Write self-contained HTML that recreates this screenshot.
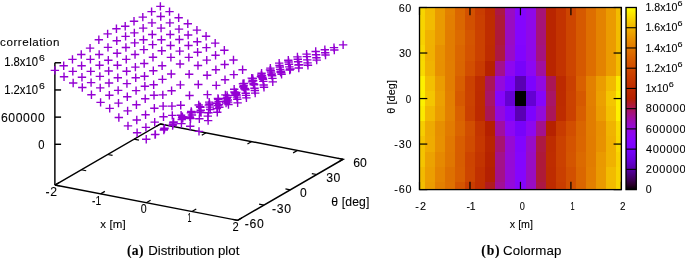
<!DOCTYPE html>
<html><head><meta charset="utf-8"><style>
html,body{margin:0;padding:0;background:#fff;overflow:hidden;}
svg{display:block;will-change:transform;font-family:"Liberation Sans",sans-serif;fill:#000;}
text{fill:#000;stroke:#000;stroke-width:0.1px;}
</style></head><body>
<svg width="685" height="258" viewBox="0 0 685 258">
<line x1="54.88" y1="185.06" x2="59.19" y2="182.57" stroke="#000" stroke-width="1.2"/>
<line x1="160.38" y1="123.92" x2="156.08" y2="126.42" stroke="#000" stroke-width="1.2"/>
<line x1="100.57" y1="193.89" x2="104.88" y2="191.39" stroke="#000" stroke-width="1.2"/>
<line x1="206.07" y1="132.75" x2="201.76" y2="135.24" stroke="#000" stroke-width="1.2"/>
<line x1="146.25" y1="202.71" x2="150.56" y2="200.22" stroke="#000" stroke-width="1.2"/>
<line x1="251.75" y1="141.57" x2="247.44" y2="144.07" stroke="#000" stroke-width="1.2"/>
<line x1="191.93" y1="211.54" x2="196.24" y2="209.04" stroke="#000" stroke-width="1.2"/>
<line x1="297.43" y1="150.40" x2="293.12" y2="152.89" stroke="#000" stroke-width="1.2"/>
<line x1="237.62" y1="220.36" x2="241.92" y2="217.87" stroke="#000" stroke-width="1.2"/>
<line x1="343.12" y1="159.22" x2="338.81" y2="161.72" stroke="#000" stroke-width="1.2"/>
<line x1="237.62" y1="220.36" x2="232.70" y2="219.41" stroke="#000" stroke-width="1.2"/>
<line x1="54.88" y1="185.06" x2="59.80" y2="186.01" stroke="#000" stroke-width="1.2"/>
<line x1="263.99" y1="205.08" x2="259.08" y2="204.13" stroke="#000" stroke-width="1.2"/>
<line x1="81.26" y1="169.78" x2="86.17" y2="170.73" stroke="#000" stroke-width="1.2"/>
<line x1="290.37" y1="189.79" x2="285.45" y2="188.84" stroke="#000" stroke-width="1.2"/>
<line x1="107.63" y1="154.49" x2="112.55" y2="155.44" stroke="#000" stroke-width="1.2"/>
<line x1="316.74" y1="174.51" x2="311.83" y2="173.56" stroke="#000" stroke-width="1.2"/>
<line x1="134.01" y1="139.21" x2="138.92" y2="140.15" stroke="#000" stroke-width="1.2"/>
<line x1="343.12" y1="159.22" x2="338.20" y2="158.27" stroke="#000" stroke-width="1.2"/>
<line x1="160.38" y1="123.92" x2="165.30" y2="124.87" stroke="#000" stroke-width="1.2"/>
<polyline points="54.88,185.06 237.62,220.36 343.12,159.22 160.38,123.92 54.88,185.06" fill="none" stroke="#000" stroke-width="1.45" stroke-linejoin="miter"/>
<line x1="54.88" y1="185.06" x2="54.88" y2="62.78" stroke="#000" stroke-width="1.45"/>
<line x1="54.88" y1="144.30" x2="61.08" y2="144.30" stroke="#000" stroke-width="1.45"/>
<line x1="54.88" y1="117.13" x2="61.08" y2="117.13" stroke="#000" stroke-width="1.45"/>
<line x1="54.88" y1="89.95" x2="61.08" y2="89.95" stroke="#000" stroke-width="1.45"/>
<line x1="54.88" y1="62.78" x2="61.08" y2="62.78" stroke="#000" stroke-width="1.45"/>
<path d="M156.18 6.39h8.40M160.38 2.19v8.40M165.32 11.60h8.40M169.52 7.40v8.40M174.46 17.80h8.40M178.66 13.60v8.40M183.59 23.69h8.40M187.79 19.49v8.40M192.73 30.12h8.40M196.93 25.92v8.40M201.87 36.28h8.40M206.07 32.08v8.40M211.00 43.12h8.40M215.20 38.92v8.40M220.14 50.32h8.40M224.34 46.12v8.40M229.28 60.01h8.40M233.48 55.81v8.40M238.41 69.70h8.40M242.61 65.50v8.40M247.55 78.16h8.40M251.75 73.96v8.40M256.69 76.76h8.40M260.89 72.56v8.40M265.82 69.92h8.40M270.02 65.72v8.40M274.96 63.08h8.40M279.16 58.88v8.40M284.10 60.32h8.40M288.30 56.12v8.40M293.23 56.87h8.40M297.43 52.67v8.40M302.37 54.11h8.40M306.57 49.91v8.40M311.51 51.57h8.40M315.71 47.37v8.40M320.64 49.71h8.40M324.84 45.51v8.40M329.78 47.63h8.40M333.98 43.43v8.40M338.92 44.86h8.40M343.12 40.66v8.40M147.39 11.58h8.40M151.59 7.38v8.40M156.53 16.51h8.40M160.73 12.31v8.40M165.67 22.90h8.40M169.87 18.70v8.40M174.80 29.10h8.40M179.00 24.90v8.40M183.94 34.99h8.40M188.14 30.79v8.40M193.08 41.69h8.40M197.28 37.49v8.40M202.21 47.62h8.40M206.41 43.42v8.40M211.35 55.18h8.40M215.55 50.98v8.40M220.49 64.51h8.40M224.69 60.31v8.40M229.62 74.61h8.40M233.82 70.41v8.40M238.76 83.71h8.40M242.96 79.51v8.40M247.89 81.85h8.40M252.09 77.65v8.40M257.03 75.01h8.40M261.23 70.81v8.40M266.17 68.17h8.40M270.37 63.97v8.40M275.30 65.41h8.40M279.50 61.21v8.40M284.44 61.97h8.40M288.64 57.77v8.40M293.58 59.20h8.40M297.78 55.00v8.40M302.71 56.67h8.40M306.91 52.47v8.40M311.85 54.81h8.40M316.05 50.61v8.40M320.99 52.72h8.40M325.19 48.52v8.40M330.12 49.96h8.40M334.32 45.76v8.40M138.60 17.08h8.40M142.80 12.88v8.40M147.74 22.88h8.40M151.94 18.68v8.40M156.87 28.08h8.40M161.07 23.88v8.40M166.01 34.51h8.40M170.21 30.31v8.40M175.15 39.50h8.40M179.35 35.30v8.40M184.28 45.56h8.40M188.48 41.36v8.40M193.42 52.31h8.40M197.62 48.11v8.40M202.56 60.10h8.40M206.76 55.90v8.40M211.69 69.70h8.40M215.89 65.50v8.40M220.83 79.80h8.40M225.03 75.60v8.40M229.97 89.26h8.40M234.17 85.06v8.40M239.10 86.95h8.40M243.30 82.75v8.40M248.24 80.11h8.40M252.44 75.91v8.40M257.38 73.27h8.40M261.58 69.07v8.40M266.51 70.51h8.40M270.71 66.31v8.40M275.65 67.06h8.40M279.85 62.86v8.40M284.79 64.30h8.40M288.99 60.10v8.40M293.92 61.76h8.40M298.12 57.56v8.40M303.06 59.90h8.40M307.26 55.70v8.40M312.20 57.82h8.40M316.40 53.62v8.40M321.33 55.05h8.40M325.53 50.85v8.40M129.81 21.32h8.40M134.01 17.12v8.40M138.95 28.11h8.40M143.15 23.91v8.40M148.08 34.49h8.40M152.28 30.29v8.40M157.22 39.70h8.40M161.42 35.50v8.40M166.36 45.50h8.40M170.56 41.30v8.40M175.49 51.11h8.40M179.69 46.91v8.40M184.63 57.40h8.40M188.83 53.20v8.40M193.77 65.51h8.40M197.97 61.31v8.40M202.90 75.20h8.40M207.10 71.00v8.40M212.04 85.34h8.40M216.24 81.14v8.40M221.18 94.90h8.40M225.38 90.70v8.40M230.31 92.04h8.40M234.51 87.84v8.40M239.45 85.66h8.40M243.65 81.46v8.40M248.58 78.36h8.40M252.78 74.16v8.40M257.72 75.60h8.40M261.92 71.40v8.40M266.86 72.16h8.40M271.06 67.96v8.40M275.99 69.39h8.40M280.19 65.19v8.40M285.13 66.86h8.40M289.33 62.66v8.40M294.27 65.00h8.40M298.47 60.80v8.40M303.40 62.91h8.40M307.60 58.71v8.40M312.54 60.15h8.40M316.74 55.95v8.40M121.02 26.19h8.40M125.22 21.99v8.40M130.15 32.89h8.40M134.35 28.69v8.40M139.29 39.68h8.40M143.49 35.48v8.40M148.43 44.61h8.40M152.63 40.41v8.40M157.56 50.82h8.40M161.76 46.62v8.40M166.70 57.34h8.40M170.90 53.14v8.40M175.84 63.99h8.40M180.04 59.79v8.40M184.97 74.18h8.40M189.17 69.98v8.40M194.11 84.51h8.40M198.31 80.31v8.40M203.25 94.61h8.40M207.45 90.41v8.40M212.38 103.26h8.40M216.58 99.06v8.40M221.52 98.50h8.40M225.72 94.30v8.40M230.66 92.79h8.40M234.86 88.59v8.40M239.79 83.46h8.40M243.99 79.26v8.40M248.93 80.70h8.40M253.13 76.50v8.40M258.07 77.25h8.40M262.27 73.05v8.40M267.20 74.49h8.40M271.40 70.29v8.40M276.34 71.95h8.40M280.54 67.75v8.40M285.48 70.09h8.40M289.68 65.89v8.40M294.61 68.01h8.40M298.81 63.81v8.40M303.75 65.24h8.40M307.95 61.04v8.40M112.23 28.70h8.40M116.43 24.50v8.40M121.36 36.40h8.40M125.56 32.20v8.40M130.50 42.92h8.40M134.70 38.72v8.40M139.64 49.62h8.40M143.84 45.42v8.40M148.77 57.27h8.40M152.97 53.07v8.40M157.91 65.78h8.40M162.11 61.58v8.40M167.05 73.98h8.40M171.25 69.78v8.40M176.18 84.89h8.40M180.38 80.69v8.40M185.32 95.49h8.40M189.52 91.29v8.40M194.46 105.05h8.40M198.66 100.85v8.40M203.59 116.10h8.40M207.79 111.90v8.40M212.73 108.58h8.40M216.93 104.38v8.40M221.86 102.96h8.40M226.06 98.76v8.40M231.00 95.30h8.40M235.20 91.10v8.40M240.14 88.73h8.40M244.34 84.53v8.40M249.27 83.71h8.40M253.47 79.51v8.40M258.41 78.09h8.40M262.61 73.89v8.40M267.55 73.92h8.40M271.75 69.72v8.40M276.68 71.25h8.40M280.88 67.05v8.40M285.82 68.98h8.40M290.02 64.78v8.40M294.96 64.81h8.40M299.16 60.61v8.40M103.43 33.88h8.40M107.63 29.68v8.40M112.57 40.72h8.40M116.77 36.52v8.40M121.71 47.51h8.40M125.91 43.31v8.40M130.84 54.49h8.40M135.04 50.29v8.40M139.98 63.50h8.40M144.18 59.30v8.40M149.12 70.70h8.40M153.32 66.50v8.40M158.25 79.39h8.40M162.45 75.19v8.40M167.39 90.71h8.40M171.59 86.51v8.40M176.53 105.21h8.40M180.73 101.01v8.40M185.66 117.07h8.40M189.86 112.87v8.40M194.80 131.38h8.40M199.00 127.18v8.40M203.94 120.60h8.40M208.14 116.40v8.40M213.07 112.27h8.40M217.27 108.07v8.40M222.21 101.30h8.40M226.41 97.10v8.40M231.35 93.51h8.40M235.55 89.31v8.40M240.48 88.35h8.40M244.68 84.15v8.40M249.62 84.68h8.40M253.82 80.48v8.40M258.76 79.20h8.40M262.96 75.00v8.40M267.89 75.75h8.40M272.09 71.55v8.40M277.03 72.49h8.40M281.23 68.29v8.40M286.17 69.18h8.40M290.37 64.98v8.40M94.64 39.70h8.40M98.84 35.50v8.40M103.78 47.40h8.40M107.98 43.20v8.40M112.92 53.20h8.40M117.12 49.00v8.40M122.05 59.40h8.40M126.25 55.20v8.40M131.19 67.10h8.40M135.39 62.90v8.40M140.33 76.25h8.40M144.53 72.05v8.40M149.46 84.81h8.40M153.66 80.61v8.40M158.60 94.90h8.40M162.80 90.70v8.40M167.74 106.09h8.40M171.94 101.89v8.40M176.87 115.24h8.40M181.07 111.04v8.40M186.01 126.29h8.40M190.21 122.09v8.40M195.14 118.77h8.40M199.34 114.57v8.40M204.28 112.74h8.40M208.48 108.54v8.40M213.42 105.67h8.40M217.62 101.47v8.40M222.55 98.29h8.40M226.75 94.09v8.40M231.69 93.62h8.40M235.89 89.42v8.40M240.83 88.64h8.40M245.03 84.44v8.40M249.96 84.52h8.40M254.16 80.32v8.40M259.10 81.35h8.40M263.30 77.15v8.40M268.24 78.36h8.40M272.44 74.16v8.40M277.37 74.19h8.40M281.57 69.99v8.40M85.85 48.11h8.40M90.05 43.91v8.40M94.99 54.49h8.40M99.19 50.29v8.40M104.12 60.29h8.40M108.32 56.09v8.40M113.26 65.22h8.40M117.46 61.02v8.40M122.40 71.29h8.40M126.60 67.09v8.40M131.53 77.81h8.40M135.73 73.61v8.40M140.67 86.19h8.40M144.87 81.99v8.40M149.81 95.29h8.40M154.01 91.09v8.40M158.94 106.11h8.40M163.14 101.91v8.40M168.08 115.35h8.40M172.28 111.15v8.40M177.22 123.64h8.40M181.42 119.44v8.40M186.35 118.52h8.40M190.55 114.32v8.40M195.49 111.95h8.40M199.69 107.75v8.40M204.63 105.15h8.40M208.83 100.95v8.40M213.76 98.49h8.40M217.96 94.29v8.40M222.90 95.37h8.40M227.10 91.17v8.40M232.04 92.38h8.40M236.24 88.18v8.40M241.17 89.70h8.40M245.37 85.50v8.40M250.31 88.30h8.40M254.51 84.10v8.40M259.45 85.04h8.40M263.65 80.84v8.40M268.58 81.87h8.40M272.78 77.67v8.40M77.06 54.51h8.40M81.26 50.31v8.40M86.20 59.40h8.40M90.40 55.20v8.40M95.33 65.20h8.40M99.53 61.00v8.40M104.47 71.00h8.40M108.67 66.80v8.40M113.61 77.79h8.40M117.81 73.59v8.40M122.74 83.58h8.40M126.94 79.38v8.40M131.88 90.60h8.40M136.08 86.40v8.40M141.02 98.71h8.40M145.22 94.51v8.40M150.15 108.26h8.40M154.35 104.06v8.40M159.29 116.82h8.40M163.49 112.62v8.40M168.43 125.47h8.40M172.62 121.27v8.40M177.56 119.45h8.40M181.76 115.25v8.40M186.70 112.83h8.40M190.90 108.63v8.40M195.83 106.67h8.40M200.03 102.47v8.40M204.97 102.10h8.40M209.17 97.90v8.40M214.11 99.33h8.40M218.31 95.13v8.40M223.24 97.25h8.40M227.44 93.05v8.40M232.38 94.98h8.40M236.58 90.78v8.40M241.52 93.30h8.40M245.72 89.10v8.40M250.65 90.45h8.40M254.85 86.25v8.40M259.79 87.19h8.40M263.99 82.99v8.40M68.27 59.38h8.40M72.47 55.18v8.40M77.40 65.81h8.40M81.60 61.61v8.40M86.54 71.38h8.40M90.74 67.18v8.40M95.68 76.41h8.40M99.88 72.21v8.40M104.81 83.02h8.40M109.01 78.82v8.40M113.95 90.40h8.40M118.15 86.20v8.40M123.09 96.78h8.40M127.29 92.58v8.40M132.22 104.80h8.40M136.42 100.60v8.40M141.36 114.81h8.40M145.56 110.61v8.40M150.50 122.14h8.40M154.70 117.94v8.40M159.63 130.02h8.40M163.83 125.82v8.40M168.77 124.09h8.40M172.97 119.89v8.40M177.91 117.52h8.40M182.11 113.32v8.40M187.04 111.45h8.40M191.24 107.25v8.40M196.18 107.19h8.40M200.38 102.99v8.40M205.32 103.97h8.40M209.52 99.77v8.40M214.45 101.44h8.40M218.65 97.24v8.40M223.59 99.99h8.40M227.79 95.79v8.40M232.73 97.09h8.40M236.93 92.89v8.40M241.86 95.41h8.40M246.06 91.21v8.40M251.00 93.14h8.40M255.20 88.94v8.40M59.48 65.79h8.40M63.68 61.59v8.40M68.61 71.41h8.40M72.81 67.21v8.40M77.75 77.20h8.40M81.95 73.00v8.40M86.89 82.59h8.40M91.09 78.39v8.40M96.02 87.84h8.40M100.22 83.64v8.40M105.16 95.18h8.40M109.36 90.98v8.40M114.30 103.15h8.40M118.50 98.95v8.40M123.43 110.89h8.40M127.63 106.69v8.40M132.57 119.99h8.40M136.77 115.79v8.40M141.71 127.37h8.40M145.91 123.17v8.40M150.84 134.66h8.40M155.04 130.46v8.40M159.98 129.09h8.40M164.18 124.89v8.40M169.11 122.52h8.40M173.31 118.32v8.40M178.25 116.73h8.40M182.45 112.53v8.40M187.39 112.69h8.40M191.59 108.49v8.40M196.52 110.29h8.40M200.72 106.09v8.40M205.66 107.12h8.40M209.86 102.92v8.40M214.80 104.76h8.40M219.00 100.56v8.40M223.93 102.09h8.40M228.13 97.89v8.40M233.07 99.24h8.40M237.27 95.04v8.40M242.21 97.83h8.40M246.41 93.63v8.40M50.68 70.39h8.40M54.88 66.19v8.40M59.82 76.82h8.40M64.02 72.62v8.40M68.96 83.02h8.40M73.16 78.82v8.40M78.09 87.50h8.40M82.29 83.30v8.40M87.23 94.79h8.40M91.43 90.59v8.40M96.37 102.40h8.40M100.57 98.20v8.40M105.50 108.38h8.40M109.70 104.18v8.40M114.64 117.48h8.40M118.84 113.28v8.40M123.78 125.90h8.40M127.98 121.70v8.40M132.91 132.79h8.40M137.11 128.59v8.40M142.05 139.31h8.40M146.25 135.11v8.40M151.19 134.37h8.40M155.39 130.17v8.40M160.32 128.21h8.40M164.52 124.01v8.40M169.46 122.05h8.40M173.66 117.85v8.40M178.60 118.38h8.40M182.80 114.18v8.40M187.73 115.07h8.40M191.93 110.87v8.40M196.87 112.44h8.40M201.07 108.24v8.40M206.01 109.54h8.40M210.21 105.34v8.40M215.14 107.19h8.40M219.34 102.99v8.40M224.28 104.51h8.40M228.48 100.31v8.40M233.42 102.83h8.40M237.62 98.63v8.40" stroke="#9400d3" stroke-width="1.4" fill="none"/>
<text x="0.09" y="45.70" font-size="11.6" textLength="59.41" lengthAdjust="spacing" >correlation</text>
<text x="4.20" y="66.20" font-size="12.2" textLength="33.87" lengthAdjust="spacingAndGlyphs" >1.8x10</text>
<text x="39.02" y="61.10" font-size="9.2" textLength="5.86" lengthAdjust="spacingAndGlyphs" >6</text>
<text x="4.20" y="94.00" font-size="12.2" textLength="33.87" lengthAdjust="spacingAndGlyphs" >1.2x10</text>
<text x="39.02" y="88.90" font-size="9.2" textLength="5.86" lengthAdjust="spacingAndGlyphs" >6</text>
<text x="0.90" y="121.50" font-size="12.2" textLength="43.80" lengthAdjust="spacing" >600000</text>
<text x="38.20" y="148.60" font-size="12.2" textLength="6.26" lengthAdjust="spacingAndGlyphs" >0</text>
<text x="45.40" y="195.90" font-size="12.2" textLength="11.75" lengthAdjust="spacing" >-2</text>
<text x="91.99" y="204.60" font-size="12.2" textLength="9.11" lengthAdjust="spacingAndGlyphs" >-1</text>
<text x="140.72" y="213.20" font-size="12.2" textLength="5.91" lengthAdjust="spacingAndGlyphs" >0</text>
<text x="187.62" y="222.10" font-size="12.2" textLength="3.96" lengthAdjust="spacingAndGlyphs" >1</text>
<text x="232.39" y="230.70" font-size="12.2" textLength="6.23" lengthAdjust="spacingAndGlyphs" >2</text>
<text x="100.23" y="227.60" font-size="11.5" textLength="25.54" lengthAdjust="spacing" >x [m]</text>
<text x="244.80" y="227.50" font-size="12.2" textLength="18.88" lengthAdjust="spacing" >-60</text>
<text x="272.00" y="212.60" font-size="12.2" textLength="19.08" lengthAdjust="spacing" >-30</text>
<text x="300.07" y="197.10" font-size="12.2" textLength="6.72" lengthAdjust="spacingAndGlyphs" >0</text>
<text x="326.36" y="182.30" font-size="12.2" textLength="14.04" lengthAdjust="spacing" >30</text>
<text x="353.24" y="167.10" font-size="12.2" textLength="13.57" lengthAdjust="spacingAndGlyphs" >60</text>
<text x="331.34" y="206.30" font-size="12.2" textLength="38.00" lengthAdjust="spacing" >θ [deg]</text>
<clipPath id="cm"><rect x="419.5" y="7.5" width="201.90" height="182.10"/></clipPath>
<g clip-path="url(#cm)" shape-rendering="crispEdges"><rect x="414.45" y="-0.09" width="10.39" height="15.47" fill="#f7d500"/><rect x="424.55" y="-0.09" width="10.39" height="15.47" fill="#f2ba00"/><rect x="434.64" y="-0.09" width="10.39" height="15.47" fill="#ea9a00"/><rect x="444.74" y="-0.09" width="10.39" height="15.47" fill="#e38000"/><rect x="454.83" y="-0.09" width="10.39" height="15.47" fill="#db6600"/><rect x="464.93" y="-0.09" width="10.39" height="15.47" fill="#d35100"/><rect x="475.02" y="-0.09" width="10.39" height="15.47" fill="#c93d00"/><rect x="485.12" y="-0.09" width="10.39" height="15.47" fill="#be2b00"/><rect x="495.21" y="-0.09" width="10.39" height="15.47" fill="#ac1844"/><rect x="505.31" y="-0.09" width="10.39" height="15.47" fill="#990cc4"/><rect x="515.40" y="-0.09" width="10.39" height="15.47" fill="#8605fb"/><rect x="525.50" y="-0.09" width="10.39" height="15.47" fill="#8f08e9"/><rect x="535.59" y="-0.09" width="10.39" height="15.47" fill="#a61378"/><rect x="545.69" y="-0.09" width="10.39" height="15.47" fill="#b92500"/><rect x="555.78" y="-0.09" width="10.39" height="15.47" fill="#c33300"/><rect x="565.88" y="-0.09" width="10.39" height="15.47" fill="#cd4500"/><rect x="575.97" y="-0.09" width="10.39" height="15.47" fill="#d65900"/><rect x="586.07" y="-0.09" width="10.39" height="15.47" fill="#de6e00"/><rect x="596.16" y="-0.09" width="10.39" height="15.47" fill="#e48300"/><rect x="606.26" y="-0.09" width="10.39" height="15.47" fill="#eb9b00"/><rect x="616.35" y="-0.09" width="10.39" height="15.47" fill="#f2bc00"/><rect x="414.45" y="15.09" width="10.39" height="15.47" fill="#f7d400"/><rect x="424.55" y="15.09" width="10.39" height="15.47" fill="#f2bb00"/><rect x="434.64" y="15.09" width="10.39" height="15.47" fill="#ea9a00"/><rect x="444.74" y="15.09" width="10.39" height="15.47" fill="#e37e00"/><rect x="454.83" y="15.09" width="10.39" height="15.47" fill="#db6700"/><rect x="464.93" y="15.09" width="10.39" height="15.47" fill="#d25000"/><rect x="475.02" y="15.09" width="10.39" height="15.47" fill="#ca3f00"/><rect x="485.12" y="15.09" width="10.39" height="15.47" fill="#be2c00"/><rect x="495.21" y="15.09" width="10.39" height="15.47" fill="#ae1a38"/><rect x="505.31" y="15.09" width="10.39" height="15.47" fill="#990cc2"/><rect x="515.40" y="15.09" width="10.39" height="15.47" fill="#8505fd"/><rect x="525.50" y="15.09" width="10.39" height="15.47" fill="#8f08e9"/><rect x="535.59" y="15.09" width="10.39" height="15.47" fill="#a61378"/><rect x="545.69" y="15.09" width="10.39" height="15.47" fill="#b92500"/><rect x="555.78" y="15.09" width="10.39" height="15.47" fill="#c33300"/><rect x="565.88" y="15.09" width="10.39" height="15.47" fill="#cd4500"/><rect x="575.97" y="15.09" width="10.39" height="15.47" fill="#d65900"/><rect x="586.07" y="15.09" width="10.39" height="15.47" fill="#de6e00"/><rect x="596.16" y="15.09" width="10.39" height="15.47" fill="#e48300"/><rect x="606.26" y="15.09" width="10.39" height="15.47" fill="#eb9b00"/><rect x="616.35" y="15.09" width="10.39" height="15.47" fill="#f2bc00"/><rect x="414.45" y="30.26" width="10.39" height="15.47" fill="#f7d100"/><rect x="424.55" y="30.26" width="10.39" height="15.47" fill="#f0b100"/><rect x="434.64" y="30.26" width="10.39" height="15.47" fill="#ea9900"/><rect x="444.74" y="30.26" width="10.39" height="15.47" fill="#e27c00"/><rect x="454.83" y="30.26" width="10.39" height="15.47" fill="#dc6a00"/><rect x="464.93" y="30.26" width="10.39" height="15.47" fill="#d45500"/><rect x="475.02" y="30.26" width="10.39" height="15.47" fill="#cb4100"/><rect x="485.12" y="30.26" width="10.39" height="15.47" fill="#bf2d00"/><rect x="495.21" y="30.26" width="10.39" height="15.47" fill="#ae193a"/><rect x="505.31" y="30.26" width="10.39" height="15.47" fill="#990cc3"/><rect x="515.40" y="30.26" width="10.39" height="15.47" fill="#8405fe"/><rect x="525.50" y="30.26" width="10.39" height="15.47" fill="#8f08e9"/><rect x="535.59" y="30.26" width="10.39" height="15.47" fill="#a61378"/><rect x="545.69" y="30.26" width="10.39" height="15.47" fill="#b92500"/><rect x="555.78" y="30.26" width="10.39" height="15.47" fill="#c33300"/><rect x="565.88" y="30.26" width="10.39" height="15.47" fill="#cd4500"/><rect x="575.97" y="30.26" width="10.39" height="15.47" fill="#d65900"/><rect x="586.07" y="30.26" width="10.39" height="15.47" fill="#de6e00"/><rect x="596.16" y="30.26" width="10.39" height="15.47" fill="#e48300"/><rect x="606.26" y="30.26" width="10.39" height="15.47" fill="#eb9b00"/><rect x="616.35" y="30.26" width="10.39" height="15.47" fill="#f2bc00"/><rect x="414.45" y="45.44" width="10.39" height="15.47" fill="#f8d800"/><rect x="424.55" y="45.44" width="10.39" height="15.47" fill="#f0b000"/><rect x="434.64" y="45.44" width="10.39" height="15.47" fill="#e89100"/><rect x="444.74" y="45.44" width="10.39" height="15.47" fill="#e27c00"/><rect x="454.83" y="45.44" width="10.39" height="15.47" fill="#db6600"/><rect x="464.93" y="45.44" width="10.39" height="15.47" fill="#d45300"/><rect x="475.02" y="45.44" width="10.39" height="15.47" fill="#cb4100"/><rect x="485.12" y="45.44" width="10.39" height="15.47" fill="#be2c00"/><rect x="495.21" y="45.44" width="10.39" height="15.47" fill="#ad1942"/><rect x="505.31" y="45.44" width="10.39" height="15.47" fill="#980bc9"/><rect x="515.40" y="45.44" width="10.39" height="15.47" fill="#8204fe"/><rect x="525.50" y="45.44" width="10.39" height="15.47" fill="#8f08e9"/><rect x="535.59" y="45.44" width="10.39" height="15.47" fill="#a5127f"/><rect x="545.69" y="45.44" width="10.39" height="15.47" fill="#b92500"/><rect x="555.78" y="45.44" width="10.39" height="15.47" fill="#c33300"/><rect x="565.88" y="45.44" width="10.39" height="15.47" fill="#cd4500"/><rect x="575.97" y="45.44" width="10.39" height="15.47" fill="#d65900"/><rect x="586.07" y="45.44" width="10.39" height="15.47" fill="#de6e00"/><rect x="596.16" y="45.44" width="10.39" height="15.47" fill="#e48300"/><rect x="606.26" y="45.44" width="10.39" height="15.47" fill="#eb9b00"/><rect x="616.35" y="45.44" width="10.39" height="15.47" fill="#f2bc00"/><rect x="414.45" y="60.61" width="10.39" height="15.47" fill="#f8da00"/><rect x="424.55" y="60.61" width="10.39" height="15.47" fill="#f0b300"/><rect x="434.64" y="60.61" width="10.39" height="15.47" fill="#e89000"/><rect x="444.74" y="60.61" width="10.39" height="15.47" fill="#e27d00"/><rect x="454.83" y="60.61" width="10.39" height="15.47" fill="#da6500"/><rect x="464.93" y="60.61" width="10.39" height="15.47" fill="#d24e00"/><rect x="475.02" y="60.61" width="10.39" height="15.47" fill="#c83b00"/><rect x="485.12" y="60.61" width="10.39" height="15.47" fill="#b62200"/><rect x="495.21" y="60.61" width="10.39" height="15.47" fill="#a3118d"/><rect x="505.31" y="60.61" width="10.39" height="15.47" fill="#8d07f0"/><rect x="515.40" y="60.61" width="10.39" height="15.47" fill="#7803fa"/><rect x="525.50" y="60.61" width="10.39" height="15.47" fill="#8c07f3"/><rect x="535.59" y="60.61" width="10.39" height="15.47" fill="#a00fa0"/><rect x="545.69" y="60.61" width="10.39" height="15.47" fill="#b92500"/><rect x="555.78" y="60.61" width="10.39" height="15.47" fill="#c33300"/><rect x="565.88" y="60.61" width="10.39" height="15.47" fill="#cd4500"/><rect x="575.97" y="60.61" width="10.39" height="15.47" fill="#d65900"/><rect x="586.07" y="60.61" width="10.39" height="15.47" fill="#de6e00"/><rect x="596.16" y="60.61" width="10.39" height="15.47" fill="#e48300"/><rect x="606.26" y="60.61" width="10.39" height="15.47" fill="#eb9b00"/><rect x="616.35" y="60.61" width="10.39" height="15.47" fill="#f2bc00"/><rect x="414.45" y="75.79" width="10.39" height="15.47" fill="#fdf000"/><rect x="424.55" y="75.79" width="10.39" height="15.47" fill="#f3bf00"/><rect x="434.64" y="75.79" width="10.39" height="15.47" fill="#eb9c00"/><rect x="444.74" y="75.79" width="10.39" height="15.47" fill="#e27d00"/><rect x="454.83" y="75.79" width="10.39" height="15.47" fill="#d85e00"/><rect x="464.93" y="75.79" width="10.39" height="15.47" fill="#cb4100"/><rect x="475.02" y="75.79" width="10.39" height="15.47" fill="#be2c00"/><rect x="485.12" y="75.79" width="10.39" height="15.47" fill="#aa165a"/><rect x="495.21" y="75.79" width="10.39" height="15.47" fill="#930adc"/><rect x="505.31" y="75.79" width="10.39" height="15.47" fill="#7d03fe"/><rect x="515.40" y="75.79" width="10.39" height="15.47" fill="#5a00b4"/><rect x="525.50" y="75.79" width="10.39" height="15.47" fill="#7d03fe"/><rect x="535.59" y="75.79" width="10.39" height="15.47" fill="#9209e0"/><rect x="545.69" y="75.79" width="10.39" height="15.47" fill="#aa1656"/><rect x="555.78" y="75.79" width="10.39" height="15.47" fill="#bd2a00"/><rect x="565.88" y="75.79" width="10.39" height="15.47" fill="#ca4000"/><rect x="575.97" y="75.79" width="10.39" height="15.47" fill="#d96000"/><rect x="586.07" y="75.79" width="10.39" height="15.47" fill="#e38000"/><rect x="596.16" y="75.79" width="10.39" height="15.47" fill="#eb9c00"/><rect x="606.26" y="75.79" width="10.39" height="15.47" fill="#f2b900"/><rect x="616.35" y="75.79" width="10.39" height="15.47" fill="#fbe900"/><rect x="414.45" y="90.96" width="10.39" height="15.47" fill="#fcf000"/><rect x="424.55" y="90.96" width="10.39" height="15.47" fill="#f4c500"/><rect x="434.64" y="90.96" width="10.39" height="15.47" fill="#eca000"/><rect x="444.74" y="90.96" width="10.39" height="15.47" fill="#e37f00"/><rect x="454.83" y="90.96" width="10.39" height="15.47" fill="#d65900"/><rect x="464.93" y="90.96" width="10.39" height="15.47" fill="#cb4200"/><rect x="475.02" y="90.96" width="10.39" height="15.47" fill="#bd2b00"/><rect x="485.12" y="90.96" width="10.39" height="15.47" fill="#a81567"/><rect x="495.21" y="90.96" width="10.39" height="15.47" fill="#8605fb"/><rect x="505.31" y="90.96" width="10.39" height="15.47" fill="#6401d2"/><rect x="515.40" y="90.96" width="10.39" height="15.47" fill="#000000"/><rect x="525.50" y="90.96" width="10.39" height="15.47" fill="#6401d2"/><rect x="535.59" y="90.96" width="10.39" height="15.47" fill="#8605fb"/><rect x="545.69" y="90.96" width="10.39" height="15.47" fill="#a81567"/><rect x="555.78" y="90.96" width="10.39" height="15.47" fill="#bd2b00"/><rect x="565.88" y="90.96" width="10.39" height="15.47" fill="#cb4200"/><rect x="575.97" y="90.96" width="10.39" height="15.47" fill="#d65900"/><rect x="586.07" y="90.96" width="10.39" height="15.47" fill="#e37f00"/><rect x="596.16" y="90.96" width="10.39" height="15.47" fill="#eca000"/><rect x="606.26" y="90.96" width="10.39" height="15.47" fill="#f4c500"/><rect x="616.35" y="90.96" width="10.39" height="15.47" fill="#fcf000"/><rect x="414.45" y="106.14" width="10.39" height="15.47" fill="#fbe900"/><rect x="424.55" y="106.14" width="10.39" height="15.47" fill="#f2b900"/><rect x="434.64" y="106.14" width="10.39" height="15.47" fill="#eb9c00"/><rect x="444.74" y="106.14" width="10.39" height="15.47" fill="#e38000"/><rect x="454.83" y="106.14" width="10.39" height="15.47" fill="#d96000"/><rect x="464.93" y="106.14" width="10.39" height="15.47" fill="#ca4000"/><rect x="475.02" y="106.14" width="10.39" height="15.47" fill="#bd2a00"/><rect x="485.12" y="106.14" width="10.39" height="15.47" fill="#aa1656"/><rect x="495.21" y="106.14" width="10.39" height="15.47" fill="#9209e0"/><rect x="505.31" y="106.14" width="10.39" height="15.47" fill="#7d03fe"/><rect x="515.40" y="106.14" width="10.39" height="15.47" fill="#5a00b4"/><rect x="525.50" y="106.14" width="10.39" height="15.47" fill="#7d03fe"/><rect x="535.59" y="106.14" width="10.39" height="15.47" fill="#930adc"/><rect x="545.69" y="106.14" width="10.39" height="15.47" fill="#aa165a"/><rect x="555.78" y="106.14" width="10.39" height="15.47" fill="#be2c00"/><rect x="565.88" y="106.14" width="10.39" height="15.47" fill="#cb4100"/><rect x="575.97" y="106.14" width="10.39" height="15.47" fill="#d85e00"/><rect x="586.07" y="106.14" width="10.39" height="15.47" fill="#e27d00"/><rect x="596.16" y="106.14" width="10.39" height="15.47" fill="#eb9c00"/><rect x="606.26" y="106.14" width="10.39" height="15.47" fill="#f3bf00"/><rect x="616.35" y="106.14" width="10.39" height="15.47" fill="#fdf000"/><rect x="414.45" y="121.31" width="10.39" height="15.47" fill="#f6cd00"/><rect x="424.55" y="121.31" width="10.39" height="15.47" fill="#eeaa00"/><rect x="434.64" y="121.31" width="10.39" height="15.47" fill="#e78f00"/><rect x="444.74" y="121.31" width="10.39" height="15.47" fill="#e27b00"/><rect x="454.83" y="121.31" width="10.39" height="15.47" fill="#da6400"/><rect x="464.93" y="121.31" width="10.39" height="15.47" fill="#d14e00"/><rect x="475.02" y="121.31" width="10.39" height="15.47" fill="#c43500"/><rect x="485.12" y="121.31" width="10.39" height="15.47" fill="#b52000"/><rect x="495.21" y="121.31" width="10.39" height="15.47" fill="#a00fa0"/><rect x="505.31" y="121.31" width="10.39" height="15.47" fill="#8c07f3"/><rect x="515.40" y="121.31" width="10.39" height="15.47" fill="#7803fa"/><rect x="525.50" y="121.31" width="10.39" height="15.47" fill="#8d07f0"/><rect x="535.59" y="121.31" width="10.39" height="15.47" fill="#a3118d"/><rect x="545.69" y="121.31" width="10.39" height="15.47" fill="#b62200"/><rect x="555.78" y="121.31" width="10.39" height="15.47" fill="#c83b00"/><rect x="565.88" y="121.31" width="10.39" height="15.47" fill="#d24e00"/><rect x="575.97" y="121.31" width="10.39" height="15.47" fill="#da6500"/><rect x="586.07" y="121.31" width="10.39" height="15.47" fill="#e27d00"/><rect x="596.16" y="121.31" width="10.39" height="15.47" fill="#e89000"/><rect x="606.26" y="121.31" width="10.39" height="15.47" fill="#f0b300"/><rect x="616.35" y="121.31" width="10.39" height="15.47" fill="#f8da00"/><rect x="414.45" y="136.49" width="10.39" height="15.47" fill="#f4c300"/><rect x="424.55" y="136.49" width="10.39" height="15.47" fill="#efab00"/><rect x="434.64" y="136.49" width="10.39" height="15.47" fill="#e89000"/><rect x="444.74" y="136.49" width="10.39" height="15.47" fill="#e17700"/><rect x="454.83" y="136.49" width="10.39" height="15.47" fill="#d85d00"/><rect x="464.93" y="136.49" width="10.39" height="15.47" fill="#d04b00"/><rect x="475.02" y="136.49" width="10.39" height="15.47" fill="#c63700"/><rect x="485.12" y="136.49" width="10.39" height="15.47" fill="#b82500"/><rect x="495.21" y="136.49" width="10.39" height="15.47" fill="#a71470"/><rect x="505.31" y="136.49" width="10.39" height="15.47" fill="#960ad3"/><rect x="515.40" y="136.49" width="10.39" height="15.47" fill="#8204fe"/><rect x="525.50" y="136.49" width="10.39" height="15.47" fill="#980bc9"/><rect x="535.59" y="136.49" width="10.39" height="15.47" fill="#ad1942"/><rect x="545.69" y="136.49" width="10.39" height="15.47" fill="#be2c00"/><rect x="555.78" y="136.49" width="10.39" height="15.47" fill="#cb4100"/><rect x="565.88" y="136.49" width="10.39" height="15.47" fill="#d45300"/><rect x="575.97" y="136.49" width="10.39" height="15.47" fill="#db6600"/><rect x="586.07" y="136.49" width="10.39" height="15.47" fill="#e27c00"/><rect x="596.16" y="136.49" width="10.39" height="15.47" fill="#e89100"/><rect x="606.26" y="136.49" width="10.39" height="15.47" fill="#f0b000"/><rect x="616.35" y="136.49" width="10.39" height="15.47" fill="#f8d800"/><rect x="414.45" y="151.66" width="10.39" height="15.47" fill="#f4c400"/><rect x="424.55" y="151.66" width="10.39" height="15.47" fill="#eca200"/><rect x="434.64" y="151.66" width="10.39" height="15.47" fill="#e68900"/><rect x="444.74" y="151.66" width="10.39" height="15.47" fill="#e07600"/><rect x="454.83" y="151.66" width="10.39" height="15.47" fill="#d75d00"/><rect x="464.93" y="151.66" width="10.39" height="15.47" fill="#cd4400"/><rect x="475.02" y="151.66" width="10.39" height="15.47" fill="#c33400"/><rect x="485.12" y="151.66" width="10.39" height="15.47" fill="#b62200"/><rect x="495.21" y="151.66" width="10.39" height="15.47" fill="#a31289"/><rect x="505.31" y="151.66" width="10.39" height="15.47" fill="#950ad6"/><rect x="515.40" y="151.66" width="10.39" height="15.47" fill="#8405fe"/><rect x="525.50" y="151.66" width="10.39" height="15.47" fill="#990cc3"/><rect x="535.59" y="151.66" width="10.39" height="15.47" fill="#ae193a"/><rect x="545.69" y="151.66" width="10.39" height="15.47" fill="#bf2d00"/><rect x="555.78" y="151.66" width="10.39" height="15.47" fill="#cb4100"/><rect x="565.88" y="151.66" width="10.39" height="15.47" fill="#d45500"/><rect x="575.97" y="151.66" width="10.39" height="15.47" fill="#dc6a00"/><rect x="586.07" y="151.66" width="10.39" height="15.47" fill="#e27c00"/><rect x="596.16" y="151.66" width="10.39" height="15.47" fill="#ea9900"/><rect x="606.26" y="151.66" width="10.39" height="15.47" fill="#f0b100"/><rect x="616.35" y="151.66" width="10.39" height="15.47" fill="#f7d100"/><rect x="414.45" y="166.84" width="10.39" height="15.47" fill="#f2ba00"/><rect x="424.55" y="166.84" width="10.39" height="15.47" fill="#ec9e00"/><rect x="434.64" y="166.84" width="10.39" height="15.47" fill="#e58400"/><rect x="444.74" y="166.84" width="10.39" height="15.47" fill="#de7000"/><rect x="454.83" y="166.84" width="10.39" height="15.47" fill="#d85e00"/><rect x="464.93" y="166.84" width="10.39" height="15.47" fill="#cd4500"/><rect x="475.02" y="166.84" width="10.39" height="15.47" fill="#c13000"/><rect x="485.12" y="166.84" width="10.39" height="15.47" fill="#b42002"/><rect x="495.21" y="166.84" width="10.39" height="15.47" fill="#a3118a"/><rect x="505.31" y="166.84" width="10.39" height="15.47" fill="#950ad7"/><rect x="515.40" y="166.84" width="10.39" height="15.47" fill="#8505fd"/><rect x="525.50" y="166.84" width="10.39" height="15.47" fill="#990cc2"/><rect x="535.59" y="166.84" width="10.39" height="15.47" fill="#ae1a38"/><rect x="545.69" y="166.84" width="10.39" height="15.47" fill="#be2c00"/><rect x="555.78" y="166.84" width="10.39" height="15.47" fill="#ca3f00"/><rect x="565.88" y="166.84" width="10.39" height="15.47" fill="#d25000"/><rect x="575.97" y="166.84" width="10.39" height="15.47" fill="#db6700"/><rect x="586.07" y="166.84" width="10.39" height="15.47" fill="#e37e00"/><rect x="596.16" y="166.84" width="10.39" height="15.47" fill="#ea9a00"/><rect x="606.26" y="166.84" width="10.39" height="15.47" fill="#f2bb00"/><rect x="616.35" y="166.84" width="10.39" height="15.47" fill="#f7d400"/><rect x="414.45" y="182.01" width="10.39" height="15.47" fill="#f3be00"/><rect x="424.55" y="182.01" width="10.39" height="15.47" fill="#eb9c00"/><rect x="434.64" y="182.01" width="10.39" height="15.47" fill="#e38000"/><rect x="444.74" y="182.01" width="10.39" height="15.47" fill="#df7100"/><rect x="454.83" y="182.01" width="10.39" height="15.47" fill="#d45500"/><rect x="464.93" y="182.01" width="10.39" height="15.47" fill="#c93d00"/><rect x="475.02" y="182.01" width="10.39" height="15.47" fill="#c12f00"/><rect x="485.12" y="182.01" width="10.39" height="15.47" fill="#b11c1f"/><rect x="495.21" y="182.01" width="10.39" height="15.47" fill="#a11097"/><rect x="505.31" y="182.01" width="10.39" height="15.47" fill="#940adb"/><rect x="515.40" y="182.01" width="10.39" height="15.47" fill="#8605fb"/><rect x="525.50" y="182.01" width="10.39" height="15.47" fill="#990cc4"/><rect x="535.59" y="182.01" width="10.39" height="15.47" fill="#ac1844"/><rect x="545.69" y="182.01" width="10.39" height="15.47" fill="#be2b00"/><rect x="555.78" y="182.01" width="10.39" height="15.47" fill="#c93d00"/><rect x="565.88" y="182.01" width="10.39" height="15.47" fill="#d35100"/><rect x="575.97" y="182.01" width="10.39" height="15.47" fill="#db6600"/><rect x="586.07" y="182.01" width="10.39" height="15.47" fill="#e38000"/><rect x="596.16" y="182.01" width="10.39" height="15.47" fill="#ea9a00"/><rect x="606.26" y="182.01" width="10.39" height="15.47" fill="#f2ba00"/><rect x="616.35" y="182.01" width="10.39" height="15.47" fill="#f7d500"/></g>
<rect x="419.5" y="7.5" width="201.90" height="182.10" fill="none" stroke="#000" stroke-width="1.3"/>
<line x1="419.50" y1="189.60" x2="419.50" y2="181.80" stroke="#000" stroke-width="1.2"/>
<line x1="419.50" y1="7.50" x2="419.50" y2="15.30" stroke="#000" stroke-width="1.2"/>
<line x1="469.98" y1="189.60" x2="469.98" y2="181.80" stroke="#000" stroke-width="1.2"/>
<line x1="469.98" y1="7.50" x2="469.98" y2="15.30" stroke="#000" stroke-width="1.2"/>
<line x1="520.45" y1="189.60" x2="520.45" y2="181.80" stroke="#000" stroke-width="1.2"/>
<line x1="520.45" y1="7.50" x2="520.45" y2="15.30" stroke="#000" stroke-width="1.2"/>
<line x1="570.92" y1="189.60" x2="570.92" y2="181.80" stroke="#000" stroke-width="1.2"/>
<line x1="570.92" y1="7.50" x2="570.92" y2="15.30" stroke="#000" stroke-width="1.2"/>
<line x1="621.40" y1="189.60" x2="621.40" y2="181.80" stroke="#000" stroke-width="1.2"/>
<line x1="621.40" y1="7.50" x2="621.40" y2="15.30" stroke="#000" stroke-width="1.2"/>
<text x="415.36" y="210.00" font-size="10.8" textLength="10.72" lengthAdjust="spacing" >-2</text>
<text x="466.38" y="210.00" font-size="10.8" textLength="9.23" lengthAdjust="spacingAndGlyphs" >-1</text>
<text x="519.68" y="210.00" font-size="10.8" textLength="5.10" lengthAdjust="spacingAndGlyphs" >0</text>
<text x="570.50" y="210.00" font-size="10.8" textLength="4.09" lengthAdjust="spacingAndGlyphs" >1</text>
<text x="620.06" y="210.00" font-size="10.8" textLength="5.50" lengthAdjust="spacingAndGlyphs" >2</text>
<line x1="419.50" y1="189.60" x2="427.30" y2="189.60" stroke="#000" stroke-width="1.2"/>
<line x1="621.40" y1="189.60" x2="613.60" y2="189.60" stroke="#000" stroke-width="1.2"/>
<line x1="419.50" y1="144.07" x2="427.30" y2="144.07" stroke="#000" stroke-width="1.2"/>
<line x1="621.40" y1="144.07" x2="613.60" y2="144.07" stroke="#000" stroke-width="1.2"/>
<line x1="419.50" y1="98.55" x2="427.30" y2="98.55" stroke="#000" stroke-width="1.2"/>
<line x1="621.40" y1="98.55" x2="613.60" y2="98.55" stroke="#000" stroke-width="1.2"/>
<line x1="419.50" y1="53.02" x2="427.30" y2="53.02" stroke="#000" stroke-width="1.2"/>
<line x1="621.40" y1="53.02" x2="613.60" y2="53.02" stroke="#000" stroke-width="1.2"/>
<line x1="419.50" y1="7.50" x2="427.30" y2="7.50" stroke="#000" stroke-width="1.2"/>
<line x1="621.40" y1="7.50" x2="613.60" y2="7.50" stroke="#000" stroke-width="1.2"/>
<text x="398.71" y="12.00" font-size="10.8" textLength="12.44" lengthAdjust="spacing" >60</text>
<text x="399.12" y="57.30" font-size="10.8" textLength="12.14" lengthAdjust="spacing" >30</text>
<text x="405.76" y="102.80" font-size="10.8" textLength="5.45" lengthAdjust="spacingAndGlyphs" >0</text>
<text x="394.36" y="147.90" font-size="10.8" textLength="17.07" lengthAdjust="spacing" >-30</text>
<text x="394.36" y="193.10" font-size="10.8" textLength="17.07" lengthAdjust="spacing" >-60</text>
<text x="509.84" y="228.10" font-size="10.8" textLength="23.17" lengthAdjust="spacingAndGlyphs" >x [m]</text>
<g transform="translate(395.2,113.5) rotate(-90)"><text x="-0.19" y="0.00" font-size="10.8" textLength="33.63" lengthAdjust="spacing" >θ [deg]</text></g>
<linearGradient id="pal" x1="0" y1="0" x2="0" y2="1"><stop offset="0.000" stop-color="#ffff00"/><stop offset="0.025" stop-color="#fcec00"/><stop offset="0.050" stop-color="#f9db00"/><stop offset="0.075" stop-color="#f5ca00"/><stop offset="0.100" stop-color="#f2ba00"/><stop offset="0.125" stop-color="#efab00"/><stop offset="0.150" stop-color="#eb9d00"/><stop offset="0.175" stop-color="#e88f00"/><stop offset="0.200" stop-color="#e48300"/><stop offset="0.225" stop-color="#e07700"/><stop offset="0.250" stop-color="#dd6c00"/><stop offset="0.275" stop-color="#d96100"/><stop offset="0.300" stop-color="#d55700"/><stop offset="0.325" stop-color="#d24e00"/><stop offset="0.350" stop-color="#ce4600"/><stop offset="0.375" stop-color="#ca3e00"/><stop offset="0.400" stop-color="#c63700"/><stop offset="0.425" stop-color="#c13000"/><stop offset="0.450" stop-color="#bd2a00"/><stop offset="0.475" stop-color="#b92500"/><stop offset="0.500" stop-color="#b42000"/><stop offset="0.525" stop-color="#b01b28"/><stop offset="0.550" stop-color="#ab174f"/><stop offset="0.575" stop-color="#a61474"/><stop offset="0.600" stop-color="#a11096"/><stop offset="0.625" stop-color="#9c0db4"/><stop offset="0.650" stop-color="#970bce"/><stop offset="0.675" stop-color="#9109e3"/><stop offset="0.700" stop-color="#8c07f3"/><stop offset="0.725" stop-color="#8605fc"/><stop offset="0.750" stop-color="#8004ff"/><stop offset="0.775" stop-color="#7903fc"/><stop offset="0.800" stop-color="#7202f3"/><stop offset="0.825" stop-color="#6b01e3"/><stop offset="0.850" stop-color="#6301ce"/><stop offset="0.875" stop-color="#5a00b4"/><stop offset="0.900" stop-color="#510096"/><stop offset="0.925" stop-color="#460074"/><stop offset="0.950" stop-color="#39004f"/><stop offset="0.975" stop-color="#280028"/><stop offset="1.000" stop-color="#000000"/></linearGradient>
<rect x="626.0" y="7.5" width="10.30" height="182.10" fill="url(#pal)" stroke="#000" stroke-width="1.3"/>
<text x="645.83" y="193.30" font-size="10.6" textLength="5.90" lengthAdjust="spacingAndGlyphs" >0</text>
<line x1="626.00" y1="169.37" x2="636.30" y2="169.37" stroke="#000" stroke-width="1.1"/>
<text x="645.70" y="173.07" font-size="11.0" textLength="39.96" lengthAdjust="spacing" >200000</text>
<line x1="626.00" y1="149.13" x2="636.30" y2="149.13" stroke="#000" stroke-width="1.1"/>
<text x="646.03" y="152.83" font-size="11.0" textLength="39.63" lengthAdjust="spacing" >400000</text>
<line x1="626.00" y1="128.90" x2="636.30" y2="128.90" stroke="#000" stroke-width="1.1"/>
<text x="645.70" y="132.60" font-size="11.0" textLength="39.96" lengthAdjust="spacing" >600000</text>
<line x1="626.00" y1="108.67" x2="636.30" y2="108.67" stroke="#000" stroke-width="1.1"/>
<text x="645.75" y="112.37" font-size="11.0" textLength="39.90" lengthAdjust="spacing" >800000</text>
<line x1="626.00" y1="88.43" x2="636.30" y2="88.43" stroke="#000" stroke-width="1.1"/>
<text x="645.46" y="92.13" font-size="10.6" textLength="22.99" lengthAdjust="spacing" >1x10</text>
<text x="668.78" y="87.13" font-size="7.8" textLength="5.02" lengthAdjust="spacingAndGlyphs" >6</text>
<line x1="626.00" y1="68.20" x2="636.30" y2="68.20" stroke="#000" stroke-width="1.1"/>
<text x="645.46" y="71.90" font-size="10.6" textLength="31.83" lengthAdjust="spacing" >1.2x10</text>
<text x="677.63" y="66.90" font-size="7.8" textLength="5.02" lengthAdjust="spacingAndGlyphs" >6</text>
<line x1="626.00" y1="47.97" x2="636.30" y2="47.97" stroke="#000" stroke-width="1.1"/>
<text x="645.46" y="51.67" font-size="10.6" textLength="31.83" lengthAdjust="spacing" >1.4x10</text>
<text x="677.63" y="46.67" font-size="7.8" textLength="5.02" lengthAdjust="spacingAndGlyphs" >6</text>
<line x1="626.00" y1="27.73" x2="636.30" y2="27.73" stroke="#000" stroke-width="1.1"/>
<text x="645.46" y="31.43" font-size="10.6" textLength="31.83" lengthAdjust="spacing" >1.6x10</text>
<text x="677.63" y="26.43" font-size="7.8" textLength="5.02" lengthAdjust="spacingAndGlyphs" >6</text>
<text x="645.46" y="11.20" font-size="10.6" textLength="31.83" lengthAdjust="spacing" >1.8x10</text>
<text x="677.63" y="6.20" font-size="7.8" textLength="5.02" lengthAdjust="spacingAndGlyphs" >6</text>
<text x="126.94" y="255.00" font-size="13.6" textLength="16.57" lengthAdjust="spacing" font-family="Liberation Serif" font-weight="bold" >(a)</text>
<text x="148.19" y="255.00" font-size="13.3" textLength="91.15" lengthAdjust="spacingAndGlyphs" >Distribution plot</text>
<text x="481.34" y="254.80" font-size="13.6" textLength="18.19" lengthAdjust="spacing" font-family="Liberation Serif" font-weight="bold" >(b)</text>
<text x="502.99" y="254.80" font-size="13.3" textLength="58.30" lengthAdjust="spacing" >Colormap</text>
</svg></body></html>
